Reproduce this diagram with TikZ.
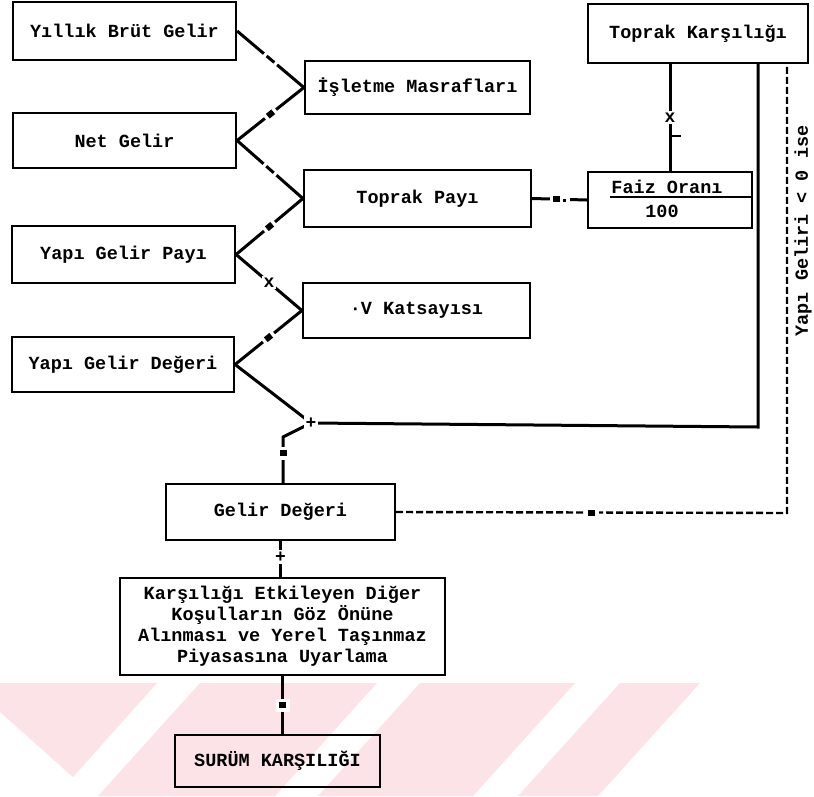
\documentclass[tikz,border=0pt]{standalone}
\usepackage{fontspec}
\setmainfont{Liberation Mono}
\usetikzlibrary{calc}
\definecolor{wm}{RGB}{251,227,231}
\begin{document}
\begin{tikzpicture}[x=1pt,y=-1pt,
  bx/.style={draw, line width=2.2pt, inner sep=0pt, align=center,
    font=\fontsize{18.5}{21}\selectfont\bfseries},
  lbl/.style={inner sep=0pt, font=\fontsize{18.5}{21}\selectfont\bfseries},
  conn/.style={line width=3pt},
  dconn/.style={line width=2.4pt, dash pattern=on 7pt off 3pt},
  gap/.style={fill=white, inner sep=3.5pt},
  sym/.style={fill=white, inner sep=2pt, font=\fontsize{18}{18}\selectfont\bfseries},
]
\useasboundingbox (0,0) rectangle (814,796);
% watermark
\fill[wm] (0,683) -- (157,683) -- (73,777) -- (0,712) -- cycle;
\fill[wm] (200,683) -- (377,683) -- (275,796) -- (98,796) -- cycle;
\fill[wm] (420,683) -- (575,683) -- (473,796) -- (318,796) -- cycle;
\fill[wm] (620,683) -- (700,683) -- (598,796) -- (518,796) -- cycle;

% boxes
\node[bx, minimum width=223pt, minimum height=58pt] (ybg) at (124.5,31) {Yıllık Brüt Gelir};
\node[bx, minimum width=225pt, minimum height=53pt] (ism) at (417.5,87.5) {İşletme Masrafları};
\node[bx, minimum width=223pt, minimum height=55pt] (net) at (124.5,140.5) {Net Gelir};
\node[bx, minimum width=227pt, minimum height=57pt] (tpay) at (417.5,198.5) {Toprak Payı};
\node[bx, minimum width=223pt, minimum height=57pt] (ygp) at (123.5,254.5) {Yapı Gelir Payı};
\node[bx, minimum width=227pt, minimum height=55pt] (vk) at (416.5,310.5) {·V Katsayısı};
\node[bx, minimum width=222pt, minimum height=55pt] (ygd) at (123,364.5) {Yapı Gelir Değeri};
\node[bx, minimum width=220pt, minimum height=59pt] (tk) at (698,33.5) {Toprak Karşılığı};
\node[bx, minimum width=164pt, minimum height=56pt] (faiz) at (670,200) {};
\node[lbl] (faizt) at (667,187) {Faiz Oranı};
\node[lbl] (faizb) at (662,211) {100};
\draw[line width=2pt] (faizt.south west) ++(-1,3) coordinate (fl) -- (fl -| faiz.east) ++(-20,0);
\node[bx, minimum width=229pt, minimum height=56pt] (gd) at (280.5,512) {Gelir Değeri};
\node[bx, minimum width=325pt, minimum height=97pt] (kar) at (282.5,626.5)
  {Karşılığı Etkileyen Diğer\\Koşulların Göz Önüne\\Alınması ve Yerel Taşınmaz\\Piyasasına Uyarlama};
\node[bx, minimum width=205pt, minimum height=52pt] (sur) at (277.5,761) {SURÜM KARŞILIĞI};

% left zig-zag connectors
\draw[conn] (ybg.east) -- node[midway, sloped, gap] (m1) {\rule{10pt}{3pt}} (ism.west);
\draw[conn] (ism.west) -- node[midway, sloped, gap] (m2) {\rule{7pt}{6pt}} (net.east);
\draw[conn] (net.east) -- node[midway, sloped, gap] (m3) {\rule{10pt}{3pt}} (tpay.west);
\draw[conn] (tpay.west) -- node[midway, sloped, gap] (m4) {\rule{7pt}{6pt}} (ygp.east);
\draw[conn] (ygp.east) -- node[midway, sym] (m5) {x} (vk.west);
\draw[conn] (vk.west) -- node[midway, sloped, gap] (m6) {\rule{7pt}{6pt}} (ygd.east);

% junction to Gelir Degeri and Toprak Karsiligi
\coordinate (J) at (311,423);
\coordinate (B1) at (283,437);
\coordinate (R1) at (758,427);
\draw[conn] (ygd.east) -- (J);
\draw[conn] (J) -- (R1) -- (R1 |- tk.south);
\draw[conn] (J) -- (B1) -- node[pos=0.35, gap] (m7) {\rule{7pt}{6pt}} (B1 |- gd.north);
\node[sym] (jm) at (J) {+};

% Toprak Karsiligi -> Faiz
\draw[conn] (faiz.north |- tk.south) -- node[pos=0.5, sym] (m8) {x} (faiz.north);
\draw[line width=2pt] ($(faiz.north |- tk.south)+(0,72)$) -- ++(11,0);

% Toprak Payi -> Faiz
\draw[conn] (tpay.east) -- node[pos=0.5, gap] (m9) {\rule{7pt}{6pt}\hspace{3pt}\rule{3pt}{3pt}} (faiz.west);

% dashed condition line
\coordinate (R2) at (787,513);
\draw[dconn] (gd.east) -- node[pos=0.5, gap] (m10) {\rule{7pt}{6pt}} (R2) -- (R2 |- tk.south);
\node[lbl, rotate=90] (cond) at (803,231) {Yapı Geliri < 0 ise};

% bottom chain
\draw[conn] (gd.south) -- node[pos=0.45, sym] (m11) {+} (gd.south |- kar.north);
\draw[conn] (kar.south) -- node[pos=0.5, gap] (m12) {\rule{7pt}{6pt}} (kar.south |- sur.north);
\end{tikzpicture}
\end{document}
